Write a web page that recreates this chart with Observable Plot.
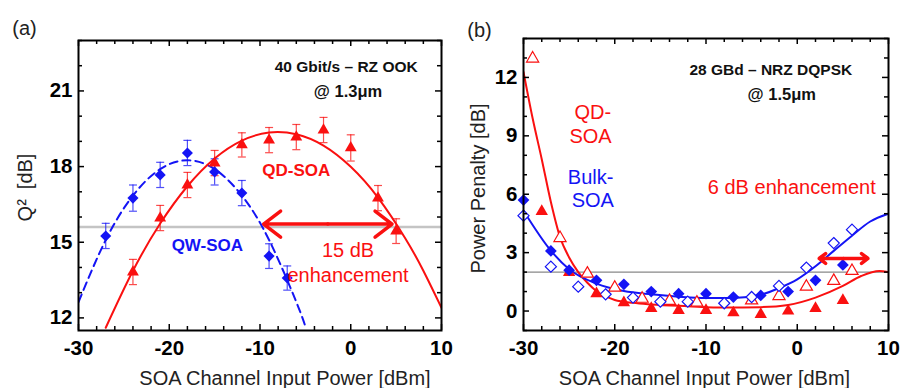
<!DOCTYPE html>
<html><head><meta charset="utf-8">
<script src="https://cdn.jsdelivr.net/npm/d3@7"></script>
<script src="https://cdn.jsdelivr.net/npm/@observablehq/plot@0.6"></script>
<style>
body{margin:0;background:#fff;}
#wrap{display:flex;width:900px;height:388px;}
</style></head><body><div id="wrap"></div>
<script>
// ---------- Panel (a) data ----------
const qwX   = [-27, -24, -21, -18, -15, -12, -9, -7];
const qwQ   = [15.25, 16.75, 17.67, 18.54, 17.79, 16.95, 14.45, 13.58];
const qwErr = [0.5, 0.52, 0.5, 0.5, 0.52, 0.5, 0.49, 0.48];
const qdX   = [-24, -21, -18, -15, -12, -9, -6, -3, 0, 3, 5];
const qdQ   = [13.82, 15.96, 17.27, 18.14, 18.86, 19.05, 19.17, 19.45, 18.74, 16.75, 15.44];
const qdErr = [0.5, 0.5, 0.5, 0.5, 0.48, 0.5, 0.5, 0.5, 0.52, 0.5, 0.49];
const qwFitX = [-30, -27, -24, -21, -18, -15, -12, -9, -6, -5];
const qwFitQ = [12.63, 15.09, 16.85, 17.9, 18.25, 17.9, 16.85, 15.09, 12.63, 11.66];
const qdFitX = [-27, -24, -21, -18, -15, -12, -9, -6, -3, 0, 3, 6, 8, 10];
const qdFitQ = [11.61, 13.87, 15.74, 17.22, 18.32, 19.03, 19.35, 19.28, 18.83, 17.99, 16.77, 15.16, 13.87, 12.4];
const aRefQ = [15.6];
const aArrow = {x1: -9.6, x2: 4.55, y: 15.72};
const aXTicks = [-30, -20, -10, 0, 10];
const aXMinor = [-28, -26, -24, -22, -18, -16, -14, -12, -8, -6, -4, -2, 2, 4, 6, 8];
const aYTicks = [12, 15, 18, 21];
const aYMinor = [13, 14, 16, 17, 19, 20, 22, 23];

// ---------- Panel (b) data ----------
const bulkFX = [-30, -27, -25, -22, -19, -16, -13, -10, -7, -4, -1, 2, 5];
const bulkFP = [5.7, 3.09, 2.1, 1.58, 1.37, 1.0, 0.89, 0.89, 0.72, 0.8, 1.0, 1.58, 2.37];
const bulkOX = [-30, -27, -24, -21, -18, -15, -12, -8, -5, -2, 1, 4, 6];
const bulkOP = [4.9, 2.28, 1.25, 0.86, 0.69, 0.48, 0.48, 0.40, 0.72, 1.29, 2.23, 3.49, 4.18];
const qdbFX = [-28, -25, -22, -19, -16, -13, -10, -7, -4, -1, 2, 5];
const qdbFP = [5.12, 1.98, 0.89, 0.43, 0.14, 0.03, 0.03, -0.09, -0.17, 0.0, 0.14, 0.55];
const qdbOX = [-29, -26, -23, -20, -17, -14, -11, -5, -2, 1, 4, 6];
const qdbOP = [12.97, 3.75, 1.92, 1.2, 0.63, 0.52, 0.43, 0.55, 0.77, 1.25, 1.55, 2.06];
const bulkFitX = [-30, -27, -25, -22, -19, -16, -13, -10, -7, -4, -2, 0, 2, 4, 6, 8, 10];
const bulkFitP = [5.15, 3.1, 2.15, 1.41, 1.03, 0.86, 0.74, 0.67, 0.67, 0.84, 1.18, 1.63, 2.3, 3.09, 3.87, 4.6, 5.0];
const qdbFitX = [-30, -29, -28, -27, -26, -25, -24, -23, -22, -21, -20, -18, -16, -12, -8, -4, -1, 2, 5, 7, 9, 10];
const qdbFitP = [12.28, 9.9, 7.8, 5.6, 3.8, 2.75, 2.0, 1.45, 1.02, 0.75, 0.57, 0.42, 0.34, 0.25, 0.18, 0.2, 0.31, 0.69, 1.29, 1.8, 2.06, 2.0];
const bRefP = [2.0];
const bArrow = {x1: 2.4, x2: 7.75, y: 2.7};
const bXTicks = [-30, -20, -10, 0, 10];
const bXMinor = [-28, -26, -24, -22, -18, -16, -14, -12, -8, -6, -4, -2, 2, 4, 6, 8];
const bYTicks = [0, 3, 6, 9, 12];
const bYMinor = [-1, 1, 2, 4, 5, 7, 8, 10, 11, 13, 14];

// ---------- styling ----------
const RED = "#fa1010";
const BLUE = "#1414f5";
const FONT = "'Liberation Sans', Arial, Helvetica, sans-serif";
const idx = n => d3.range(n);
const capSym = {draw(ctx) { ctx.moveTo(-4, 0); ctx.lineTo(4, 0); }};

function frameTicks(xMaj, xMin, yMaj, yMin, fw, fh) {
  const s = {stroke: "black", strokeWidth: 1.5};
  return [
    Plot.tickX(xMaj, {x: d => d, insetTop: fh - 6, ...s}),
    Plot.tickX(xMaj, {x: d => d, insetBottom: fh - 6, ...s}),
    Plot.tickX(xMin, {x: d => d, insetTop: fh - 4, ...s}),
    Plot.tickX(xMin, {x: d => d, insetBottom: fh - 4, ...s}),
    Plot.tickY(yMaj, {y: d => d, insetRight: fw - 6, ...s}),
    Plot.tickY(yMaj, {y: d => d, insetLeft: fw - 6, ...s}),
    Plot.tickY(yMin, {y: d => d, insetRight: fw - 4, ...s}),
    Plot.tickY(yMin, {y: d => d, insetLeft: fw - 4, ...s})
  ];
}
function axes(xT, yT) {
  return [
    Plot.axisX(xT, {anchor: "bottom", tickSize: 0, tickPadding: 10, fontSize: 20.5, fontWeight: "bold", label: null, tickFormat: d => d}),
    Plot.axisY(yT, {anchor: "left", tickSize: 0, tickPadding: 6, fontSize: 20.5, fontWeight: "bold", label: null, tickFormat: d => d})
  ];
}
function dblArrow(a) {
  const mid = (a.x1 + a.x2) / 2;
  const o = {stroke: RED, strokeWidth: 3.5, headLength: 14, headAngle: 75};
  return [
    Plot.arrow([a], {x1: () => mid, x2: () => a.x1, y1: () => a.y, y2: () => a.y, ...o}),
    Plot.arrow([a], {x1: () => mid, x2: () => a.x2, y1: () => a.y, y2: () => a.y, ...o})
  ];
}
const styleObj = {fontFamily: FONT, background: "transparent", overflow: "visible", color: "black"};

// ---------- Panel (a) ----------
const A = {ml: 78, mr: 9, mt: 40, mb: 58};
const aFW = 450 - A.ml - A.mr, aFH = 388 - A.mt - A.mb;
const plotA = Plot.plot({
  width: 450, height: 388,
  marginLeft: A.ml, marginRight: A.mr, marginTop: A.mt, marginBottom: A.mb,
  x: {domain: [-30, 10]},
  y: {domain: [11.5, 23]},
  style: styleObj,
  marks: [
    Plot.ruleY(aRefQ, {y: d => d, stroke: "#c4c4c4", strokeWidth: 2.5}),
    Plot.line(idx(qwFitX.length), {x: i => qwFitX[i], y: i => qwFitQ[i], curve: "natural", stroke: BLUE, strokeWidth: 2, strokeDasharray: "8,5", clip: true}),
    Plot.line(idx(qdFitX.length), {x: i => qdFitX[i], y: i => qdFitQ[i], curve: "natural", stroke: RED, strokeWidth: 2, clip: true}),
    // error bars
    Plot.ruleX(idx(qwX.length), {x: i => qwX[i], y1: i => qwQ[i] - qwErr[i], y2: i => qwQ[i] + qwErr[i], stroke: BLUE, strokeOpacity: 0.75, strokeWidth: 1.2}),
    Plot.dot(idx(qwX.length), {x: i => qwX[i], y: i => qwQ[i] - qwErr[i], symbol: capSym, stroke: BLUE, strokeOpacity: 0.75, strokeWidth: 1.2, fill: "none"}),
    Plot.dot(idx(qwX.length), {x: i => qwX[i], y: i => qwQ[i] + qwErr[i], symbol: capSym, stroke: BLUE, strokeOpacity: 0.75, strokeWidth: 1.2, fill: "none"}),
    Plot.ruleX(idx(qdX.length), {x: i => qdX[i], y1: i => qdQ[i] - qdErr[i], y2: i => qdQ[i] + qdErr[i], stroke: RED, strokeOpacity: 0.75, strokeWidth: 1.2}),
    Plot.dot(idx(qdX.length), {x: i => qdX[i], y: i => qdQ[i] - qdErr[i], symbol: capSym, stroke: RED, strokeOpacity: 0.75, strokeWidth: 1.2, fill: "none"}),
    Plot.dot(idx(qdX.length), {x: i => qdX[i], y: i => qdQ[i] + qdErr[i], symbol: capSym, stroke: RED, strokeOpacity: 0.75, strokeWidth: 1.2, fill: "none"}),
    // markers
    Plot.dot(idx(qwX.length), {x: i => qwX[i], y: i => qwQ[i], symbol: "diamond2", r: 5.0, fill: BLUE, stroke: "none"}),
    Plot.dot(idx(qdX.length), {x: i => qdX[i], y: i => qdQ[i], symbol: "triangle", r: 4.4, fill: RED, stroke: "none"}),
    ...dblArrow(aArrow),
    // annotations
    Plot.text(["40 Gbit/s – RZ OOK"], {x: () => -0.5, y: () => 21.95, text: d => d, fontSize: 15.5, fontWeight: "bold", fill: "#111"}),
    Plot.text(["@ 1.3μm"], {x: () => -0.3, y: () => 20.96, text: d => d, fontSize: 16.5, fontWeight: "bold", fill: "#111"}),
    Plot.text(["QD-SOA"], {x: () => -6.0, y: () => 17.83, text: d => d, fontSize: 17, fontWeight: "bold", fill: RED}),
    Plot.text(["QW-SOA"], {x: () => -15.8, y: () => 14.85, text: d => d, fontSize: 17, fontWeight: "bold", fill: BLUE}),
    Plot.text(["15 dB"], {x: () => -0.3, y: () => 14.65, text: d => d, fontSize: 20, fill: RED}),
    Plot.text(["enhancement"], {x: () => -0.3, y: () => 13.66, text: d => d, fontSize: 20, fill: RED}),
    ...frameTicks(aXTicks, aXMinor, aYTicks, aYMinor, aFW, aFH),
    Plot.frame({stroke: "black", strokeWidth: 2}),
    ...axes(aXTicks, aYTicks),
    Plot.text(["SOA Channel Input Power [dBm]"], {frameAnchor: "bottom", dx: 25, dy: 48, text: d => d, fontSize: 20, fill: "#222", lineAnchor: "middle"}),
    Plot.text(["Q²\u2002[dB]"], {frameAnchor: "left", dx: -53, dy: 2, rotate: -90, textAnchor: "middle", text: d => d, fontSize: 20, fill: "#222"}),
    Plot.text(["(a)"], {frameAnchor: "top-left", dx: -54, dy: -20, text: d => d, fontSize: 20, fill: "#222", textAnchor: "middle"})
  ]
});

// ---------- Panel (b) ----------
const B = {ml: 73, mr: 12, mt: 38, mb: 58};
const bFW = 450 - B.ml - B.mr, bFH = 388 - B.mt - B.mb;
const plotB = Plot.plot({
  width: 450, height: 388,
  marginLeft: B.ml, marginRight: B.mr, marginTop: B.mt, marginBottom: B.mb,
  x: {domain: [-30, 10]},
  y: {domain: [-1, 14]},
  style: styleObj,
  marks: [
    Plot.ruleY(bRefP, {y: d => d, stroke: "#888", strokeWidth: 1.2}),
    Plot.line(idx(qdbFitX.length), {x: i => qdbFitX[i], y: i => qdbFitP[i], curve: "monotone-x", stroke: RED, strokeWidth: 2, clip: true}),
    Plot.line(idx(bulkFitX.length), {x: i => bulkFitX[i], y: i => bulkFitP[i], curve: "monotone-x", stroke: BLUE, strokeWidth: 2, clip: true}),
    Plot.dot(idx(qdbOX.length), {x: i => qdbOX[i], y: i => qdbOP[i], symbol: "triangle", r: 4.5, fill: "white", stroke: RED, strokeWidth: 1.2}),
    Plot.dot(idx(bulkOX.length), {x: i => bulkOX[i], y: i => bulkOP[i], symbol: "diamond2", r: 5.0, fill: "white", stroke: BLUE, strokeWidth: 1.2}),
    Plot.dot(idx(qdbFX.length), {x: i => qdbFX[i], y: i => qdbFP[i], symbol: "triangle", r: 4.6, fill: RED, stroke: "none"}),
    Plot.dot(idx(bulkFX.length), {x: i => bulkFX[i], y: i => bulkFP[i], symbol: "diamond2", r: 5.3, fill: BLUE, stroke: "none"}),
    ...dblArrow(bArrow),
    Plot.text(["28 GBd – NRZ DQPSK"], {x: () => -2.9, y: () => 12.37, text: d => d, fontSize: 15.5, fontWeight: "bold", fill: "#111"}),
    Plot.text(["@ 1.5μm"], {x: () => -1.7, y: () => 11.13, text: d => d, fontSize: 16.5, fontWeight: "bold", fill: "#111"}),
    Plot.text(["QD-"], {x: () => -22.4, y: () => 10.2, text: d => d, fontSize: 20, fill: RED}),
    Plot.text(["SOA"], {x: () => -22.65, y: () => 8.97, text: d => d, fontSize: 20, fill: RED}),
    Plot.text(["Bulk-"], {x: () => -22.65, y: () => 6.86, text: d => d, fontSize: 20, fill: BLUE}),
    Plot.text(["SOA"], {x: () => -22.4, y: () => 5.67, text: d => d, fontSize: 20, fill: BLUE}),
    Plot.text(["6 dB enhancement"], {x: () => -0.6, y: () => 6.34, text: d => d, fontSize: 20, fill: RED}),
    ...frameTicks(bXTicks, bXMinor, bYTicks, bYMinor, bFW, bFH),
    Plot.frame({stroke: "black", strokeWidth: 2}),
    ...axes(bXTicks, bYTicks),
    Plot.text(["SOA Channel Input Power [dBm]"], {frameAnchor: "bottom", dx: -1.5, dy: 48, text: d => d, fontSize: 20, fill: "#222", lineAnchor: "middle"}),
    Plot.text(["Power Penalty [dB]"], {frameAnchor: "left", dx: -45, dy: 4, rotate: -90, textAnchor: "middle", text: d => d, fontSize: 20, fill: "#222"}),
    Plot.text(["(b)"], {frameAnchor: "top-left", dx: -44, dy: -16, text: d => d, fontSize: 20, fill: "#222", textAnchor: "middle"})
  ]
});

document.getElementById("wrap").append(plotA, plotB);
</script>
</body></html>
